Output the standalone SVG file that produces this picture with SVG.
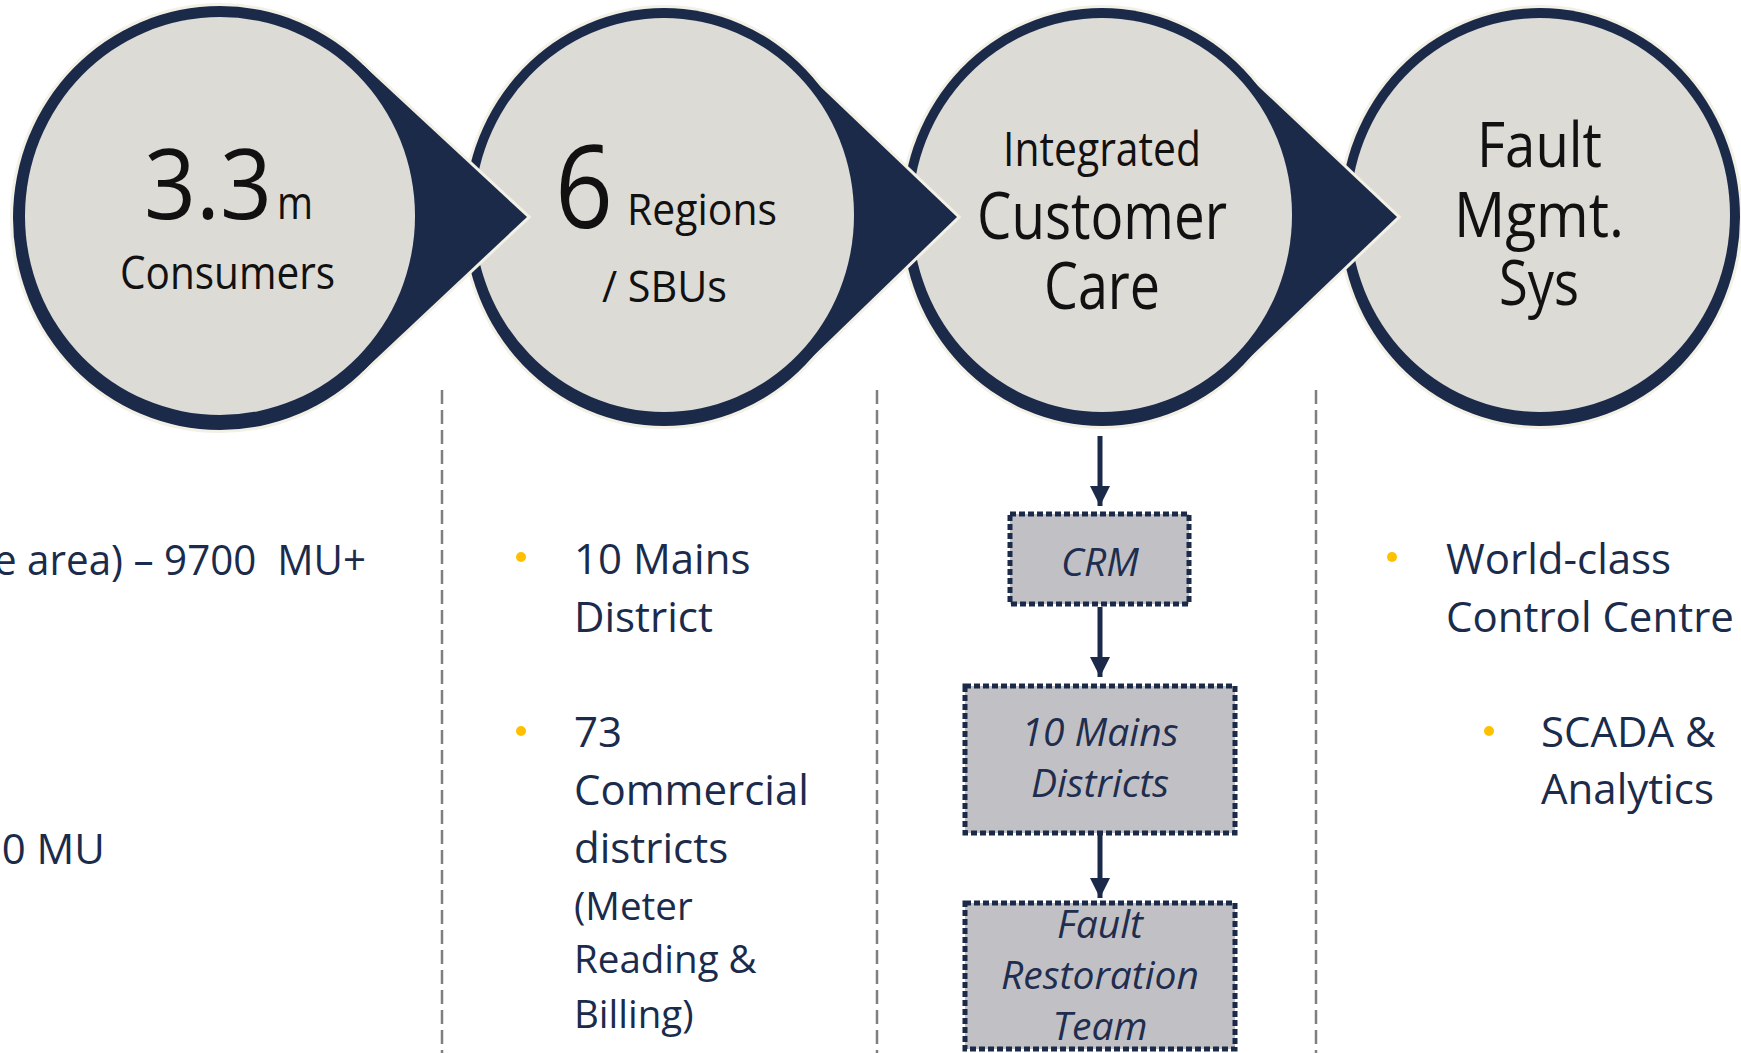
<svg xmlns="http://www.w3.org/2000/svg" width="1741" height="1053" viewBox="0 0 1741 1053">
<style>
.ring{fill:#1b2a49}
.face{fill:#dddbd6}
.halo{fill:#f3f0e6;stroke:#f3f0e6;stroke-width:6;stroke-linejoin:miter}
.ct{font-family:"Open Sans","Liberation Sans",sans-serif;fill:#111111}
.bt{font-family:"Open Sans","Liberation Sans",sans-serif;font-size:42px;fill:#1b2b4b}
.sm{font-size:38.5px}
.bul{fill:#ffc000}
.box{fill:#c1c1c5;stroke:#1b2a49;stroke-width:5;stroke-dasharray:6 3}
.bx{font-family:"Open Sans","Liberation Sans",sans-serif;font-style:italic;font-size:39px;fill:#1f2d4e;text-anchor:middle}
.dash{stroke:#7f7f7f;stroke-width:2.5;stroke-dasharray:14 6;fill:none}
.arr{stroke:#1b2a49;stroke-width:5;fill:none;marker-end:url(#ah)}
</style>
<defs>
<marker id="ah" viewBox="0 0 20 20" refX="20" refY="10" markerWidth="20" markerHeight="20" markerUnits="userSpaceOnUse" orient="auto">
<path d="M0,0 L20,10 L0,20 z" fill="#1b2a49"/>
</marker>
</defs>
<rect x="0" y="0" width="1741" height="1053" fill="#ffffff"/>

<g id="dividers">
<line class="dash" x1="442" y1="390" x2="442" y2="1053"/>
<line class="dash" x1="877" y1="390" x2="877" y2="1053"/>
<line class="dash" x1="1316" y1="390" x2="1316" y2="1053"/>
</g>

<g id="node-fault-mgmt">
<ellipse class="halo" cx="1540" cy="217" rx="200" ry="209"/>
<ellipse class="ring" cx="1540" cy="217" rx="200" ry="209"/>
<ellipse class="face" cx="1540" cy="215" rx="190" ry="197"/>
<text class="ct" x="1477" y="167" font-size="62" textLength="125" lengthAdjust="spacingAndGlyphs">Fault</text>
<text class="ct" x="1454" y="237" font-size="62" textLength="170" lengthAdjust="spacingAndGlyphs">Mgmt.</text>
<text class="ct" x="1499" y="305" font-size="62" textLength="80" lengthAdjust="spacingAndGlyphs">Sys</text>
</g>

<g id="node-customer-care">
<ellipse class="halo" cx="1102" cy="217" rx="200" ry="209"/>
<polygon class="halo" points="1242,71 1397,217 1242,365"/>
<ellipse class="ring" cx="1102" cy="217" rx="200" ry="209"/>
<polygon class="ring" points="1242,71 1397,217 1242,365"/>
<ellipse class="face" cx="1102" cy="215" rx="190" ry="197"/>
<text class="ct" x="1003" y="166" font-size="48" textLength="198" lengthAdjust="spacingAndGlyphs">Integrated</text>
<text class="ct" x="977" y="239" font-size="65" textLength="250" lengthAdjust="spacingAndGlyphs">Customer</text>
<text class="ct" x="1044" y="309" font-size="65" textLength="116" lengthAdjust="spacingAndGlyphs">Care</text>
</g>

<g id="node-regions">
<ellipse class="halo" cx="664" cy="217" rx="200" ry="209"/>
<polygon class="halo" points="805,72 957,217 805,364"/>
<ellipse class="ring" cx="664" cy="217" rx="200" ry="209"/>
<polygon class="ring" points="805,72 957,217 805,364"/>
<ellipse class="face" cx="664" cy="215" rx="190" ry="197"/>
<text class="ct" x="555" y="228" font-size="116" textLength="58" lengthAdjust="spacingAndGlyphs">6</text>
<text class="ct" x="627" y="225" font-size="43" textLength="150" lengthAdjust="spacingAndGlyphs">Regions</text>
<text class="ct" x="602" y="302" font-size="43" textLength="125" lengthAdjust="spacingAndGlyphs">/ SBUs</text>
</g>

<g id="node-consumers">
<ellipse class="halo" cx="220" cy="218" rx="207" ry="212"/>
<polygon class="halo" points="363,65 527,217 363,371"/>
<ellipse class="ring" cx="220" cy="218" rx="207" ry="212"/>
<polygon class="ring" points="363,65 527,217 363,371"/>
<ellipse class="face" cx="220" cy="216" rx="195" ry="199"/>
<text class="ct" x="144" y="219" font-size="97" textLength="128" lengthAdjust="spacingAndGlyphs">3.3</text>
<text class="ct" x="277" y="219" font-size="45" textLength="36" lengthAdjust="spacingAndGlyphs">m</text>
<text class="ct" x="120" y="289" font-size="46" textLength="215" lengthAdjust="spacingAndGlyphs">Consumers</text>
</g>

<g id="text-left">
<text class="bt" x="-6" y="575" textLength="372" lengthAdjust="spacingAndGlyphs" xml:space="preserve">e area) – 9700  MU+</text>
<text class="bt" x="105" y="864" text-anchor="end">0 MU</text>
</g>

<g id="text-regions">
<circle class="bul" cx="521" cy="557" r="5"/>
<text class="bt" x="574" y="574">10 Mains</text>
<text class="bt" x="574" y="632">District</text>
<circle class="bul" cx="521" cy="731" r="5"/>
<text class="bt" x="574" y="747">73</text>
<text class="bt" x="574" y="805">Commercial</text>
<text class="bt" x="574" y="863">districts</text>
<text class="bt sm" x="574" y="920">(Meter</text>
<text class="bt sm" x="574" y="973">Reading &amp;</text>
<text class="bt sm" x="574" y="1028">Billing)</text>
</g>

<g id="text-fault">
<circle class="bul" cx="1392" cy="557" r="5"/>
<text class="bt" x="1446" y="574">World-class</text>
<text class="bt" x="1446" y="632">Control Centre</text>
<circle class="bul" cx="1489" cy="731" r="5"/>
<text class="bt" x="1541" y="747">SCADA &amp;</text>
<text class="bt" x="1541" y="804">Analytics</text>
</g>

<g id="connectors">
<line class="arr" x1="1100" y1="436" x2="1100" y2="506"/>
<line class="arr" x1="1100" y1="607" x2="1100" y2="677"/>
<line class="arr" x1="1100" y1="835" x2="1100" y2="898"/>
</g>

<g id="node-crm">
<rect class="box" x="1010" y="514" width="179" height="90"/>
<text class="bx" x="1100" y="576" font-size="42">CRM</text>
</g>

<g id="node-mains-districts">
<rect class="box" x="965" y="686" width="270" height="147"/>
<text class="bx" x="1100" y="746">10 Mains</text>
<text class="bx" x="1100" y="797">Districts</text>
</g>

<g id="node-fault-team">
<rect class="box" x="965" y="903" width="270" height="146"/>
<text class="bx" x="1100" y="938">Fault</text>
<text class="bx" x="1100" y="989">Restoration</text>
<text class="bx" x="1100" y="1040">Team</text>
</g>
</svg>
